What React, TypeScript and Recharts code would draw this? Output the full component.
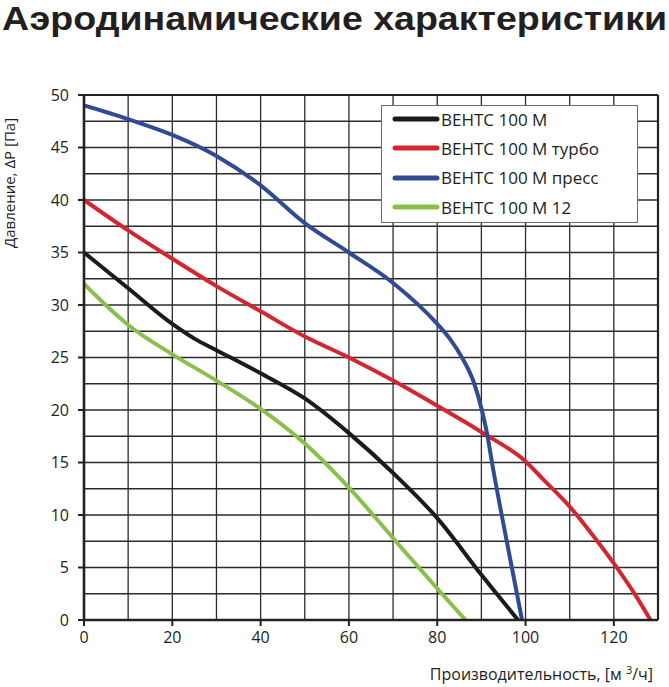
import React from 'react';
import { LineChart, Line, XAxis, YAxis, CartesianGrid, Legend, ReferenceLine } from 'recharts';

// Flow rate, m3/h (x) vs pressure, Pa (y)
const ventsM = [
    { x: 0, y: 35 }, { x: 10, y: 31.6 }, { x: 20, y: 28.2 }, { x: 25, y: 26.8 }, { x: 30, y: 25.7 },
    { x: 40, y: 23.5 }, { x: 50, y: 21.1 }, { x: 60, y: 17.8 }, { x: 70, y: 14.0 },
    { x: 80, y: 9.7 }, { x: 90, y: 4.3 }, { x: 98.3, y: 0 },
];

const ventsTurbo = [
    { x: 0, y: 40 }, { x: 10, y: 37.1 }, { x: 20, y: 34.4 }, { x: 30, y: 31.8 },
    { x: 40, y: 29.4 }, { x: 50, y: 27.0 }, { x: 60, y: 25.0 }, { x: 70, y: 22.8 },
    { x: 80, y: 20.4 }, { x: 90, y: 17.9 }, { x: 100, y: 15.1 }, { x: 104, y: 13.4 },
    { x: 110, y: 10.8 }, { x: 115, y: 8.2 }, { x: 120, y: 5.4 }, { x: 125, y: 2.3 }, { x: 128.3, y: 0 },
];

const ventsPress = [
    { x: 0, y: 49 }, { x: 10, y: 47.7 }, { x: 20, y: 46.2 }, { x: 30, y: 44.2 },
    { x: 40, y: 41.4 }, { x: 50, y: 37.8 }, { x: 60, y: 35.0 }, { x: 70, y: 32.1 },
    { x: 80, y: 28.2 }, { x: 83, y: 26.7 }, { x: 85.6, y: 25 }, { x: 88.4, y: 22.5 },
    { x: 90.1, y: 20 }, { x: 91.4, y: 17.5 }, { x: 92.4, y: 15 }, { x: 94.6, y: 10 },
    { x: 96.9, y: 5 }, { x: 99.2, y: 0 },
];

const vents12 = [
    { x: 0, y: 32 }, { x: 10, y: 28.1 }, { x: 20, y: 25.3 }, { x: 30, y: 22.8 },
    { x: 40, y: 20.1 }, { x: 50, y: 16.8 }, { x: 60, y: 12.6 }, { x: 70, y: 7.8 },
    { x: 80, y: 3.0 }, { x: 86.4, y: 0 },
];

const seriesNames = ['ВЕНТС 100 М', 'ВЕНТС 100 М турбо', 'ВЕНТС 100 М пресс', 'ВЕНТС 100 М 12'];

const xTicks = [0, 20, 40, 60, 80, 100, 120];
const yTicks = [0, 5, 10, 15, 20, 25, 30, 35, 40, 45, 50];
const xGrid = [10, 20, 30, 40, 50, 60, 70, 80, 90, 100, 110, 120];
const yGrid = [2.5, 5, 7.5, 10, 12.5, 15, 17.5, 20, 22.5, 25, 27.5, 30, 32.5, 35, 37.5, 40, 42.5, 45, 47.5];

const FONT = '"Open Sans", "Noto Sans", sans-serif';
const INK = '#231f20';

const ChartLegend = (props: any) => {
    const { payload = [] } = props;
    // keep the series order, not the alphabetical one
    const items = [...payload].sort((a: any, b: any) => seriesNames.indexOf(a.value) - seriesNames.indexOf(b.value));
    return (
        <div style={{
            width: 257, height: 118, boxSizing: 'border-box', border: '1px solid #6b6b6b',
            background: '#fff', position: 'relative', fontFamily: FONT,
        }}>
            {items.map((entry: any, i: number) => (
                <div key={entry.value} style={{ position: 'absolute', left: 0, top: 3 + i * 29.4, height: 20, display: 'flex', alignItems: 'center' }}>
                    <svg width={59} height={20} style={{ display: 'block' }}>
                        <line x1={13} y1={10} x2={55} y2={10} stroke={entry.color} strokeWidth={5} strokeLinecap="round" />
                    </svg>
                    <span style={{ fontSize: 17, color: INK, whiteSpace: 'nowrap' }}>{entry.value}</span>
                </div>
            ))}
        </div>
    );
};

export default function App() {
    return (
        <div style={{ position: 'absolute', left: 0, top: 0, width: 669, height: 687, background: '#fff', overflow: 'hidden' }}>
            <LineChart
                width={669}
                height={687}
                margin={{ top: 95, right: 11, bottom: 37, left: 40 }}
                style={{ fontFamily: FONT }}
            >
                <CartesianGrid
                    stroke="#2b2b2b"
                    strokeWidth={1.3}
                    horizontalValues={yGrid}
                    verticalValues={xGrid}
                />
                <ReferenceLine x={130} stroke="#222" strokeWidth={2.2} />
                <ReferenceLine y={50} stroke="#222" strokeWidth={2.2} />
                <XAxis
                    type="number"
                    dataKey="x"
                    domain={[0, 130]}
                    ticks={xTicks}
                    allowDataOverflow
                    height={30}
                    tickSize={6}
                    tickMargin={6}
                    stroke="#222"
                    axisLine={{ stroke: '#222', strokeWidth: 2.6 }}
                    tickLine={{ stroke: '#222', strokeWidth: 2 }}
                    tick={{ fill: INK, fontSize: 16 }}
                />
                <YAxis
                    type="number"
                    domain={[0, 50]}
                    ticks={yTicks}
                    allowDataOverflow
                    width={44}
                    tickSize={6}
                    tickMargin={9}
                    stroke="#222"
                    axisLine={{ stroke: '#222', strokeWidth: 2.6 }}
                    tickLine={{ stroke: '#222', strokeWidth: 2 }}
                    tick={{ fill: INK, fontSize: 16 }}
                />
                <Legend
                    layout="vertical"
                    align="center"
                    verticalAlign="middle"
                    content={<ChartLegend />}
                    wrapperStyle={{ left: 381, top: 105, width: 257, height: 118 }}
                />
                <Line data={ventsM} dataKey="y" name={seriesNames[0]} type="monotone" stroke="#1b1b1b" strokeWidth={4} dot={false} isAnimationActive={false} />
                <Line data={ventsTurbo} dataKey="y" name={seriesNames[1]} type="monotone" stroke="#d3262e" strokeWidth={4} dot={false} isAnimationActive={false} />
                <Line data={ventsPress} dataKey="y" name={seriesNames[2]} type="monotone" stroke="#2f4a96" strokeWidth={4} dot={false} isAnimationActive={false} />
                <Line data={vents12} dataKey="y" name={seriesNames[3]} type="monotone" stroke="#8bbf4c" strokeWidth={4} dot={false} isAnimationActive={false} />
            </LineChart>
            <svg width={669} height={687} style={{ position: 'absolute', left: 0, top: 0, pointerEvents: 'none' }}>
                <text x={2} y={30} fontFamily='"Liberation Sans", Arial, sans-serif' fontWeight={700} fontSize={33} fill={INK}
                    textLength={665} lengthAdjust="spacingAndGlyphs">
                    Аэродинамические характеристики
                </text>
                <text transform="translate(15,183) rotate(-90)" textAnchor="middle" fontFamily={FONT} fontSize={15} fill={INK}>
                    Давление, ΔP [Па]
                </text>
                <text x={653} y={680} textAnchor="end" fontFamily={FONT} fontSize={16} fill={INK}>
                    Производительность, [м <tspan dy={-6} fontSize={11}>3</tspan><tspan dy={6}>/ч]</tspan>
                </text>
            </svg>
        </div>
    );
}
